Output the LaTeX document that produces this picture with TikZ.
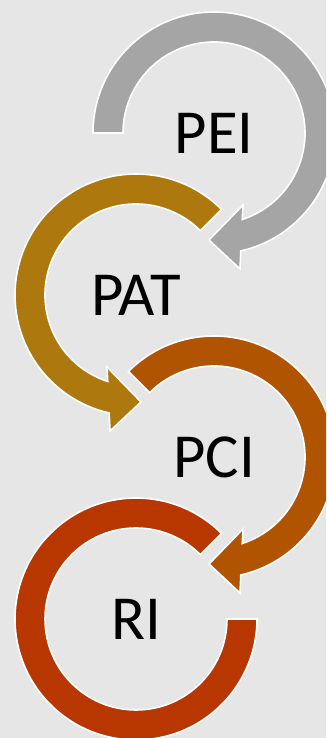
\documentclass[tikz,border=0pt]{standalone}
\usepackage{fontspec}
\setmainfont{Carlito}
\usepackage{tikz}
\usetikzlibrary{positioning}
\definecolor{bggray}{RGB}{231,230,230}
\definecolor{peigray}{RGB}{165,165,165}
\definecolor{patgold}{RGB}{173,120,14}
\definecolor{pciorange}{RGB}{176,84,2}
\definecolor{rired}{RGB}{184,54,0}

\begin{document}
\begin{tikzpicture}[x=0.75pt, y=0.75pt,
  ring/.style={draw=white, line width=1.2pt, line join=miter},
  stagetext/.style={font=\fontsize{47}{50}\selectfont, text=black, inner sep=0pt}]
\useasboundingbox (0,0) rectangle (326,738);
\fill[bggray] (0,0) rectangle (326,738);
\clip (0,0) rectangle (326,738);

\coordinate (cpei) at (214,605);
\coordinate (cpat) at (136,443);
\coordinate (cpci) at (214,281);
\coordinate (cri) at (136,119);

% clockwise arrows
\begin{scope}[shift={(cpei)}]
\path[ring, fill=peigray] (180:121) arc[start angle=180, end angle=-77.2, radius=121]
  -- (26,-136) -- (-5,-107) -- (29,-72) -- (-71.9:91)
  arc[start angle=-71.9, end angle=180, radius=91] -- cycle;
\end{scope}
\begin{scope}[shift={(cpci)}]
\path[ring, fill=pciorange] (135:121) arc[start angle=135, end angle=-77.2, radius=121]
  -- (26,-136) -- (-5,-107) -- (29,-72) -- (-71.9:91)
  arc[start angle=-71.9, end angle=135, radius=91] -- cycle;
\end{scope}

% counter-clockwise arrow (mirrored)
\begin{scope}[shift={(cpat)}, xscale=-1]
\path[ring, fill=patgold] (135:121) arc[start angle=135, end angle=-77.2, radius=121]
  -- (26,-136) -- (-5,-107) -- (29,-72) -- (-71.9:91)
  arc[start angle=-71.9, end angle=135, radius=91] -- cycle;
\end{scope}

% last ring, no head
\begin{scope}[shift={(cri)}]
\path[ring, fill=rired] (45:121) arc[start angle=45, end angle=360, radius=121]
  -- (0:91) arc[start angle=360, end angle=45, radius=91] -- cycle;
\end{scope}

\node[stagetext] (pei) at (cpei) {PEI};
\node[stagetext] (pat) at (cpat) {PAT};
\node[stagetext] (pci) at (cpci) {PCI};
\node[stagetext] (ri) at (cri) {RI};
\end{tikzpicture}
\end{document}
